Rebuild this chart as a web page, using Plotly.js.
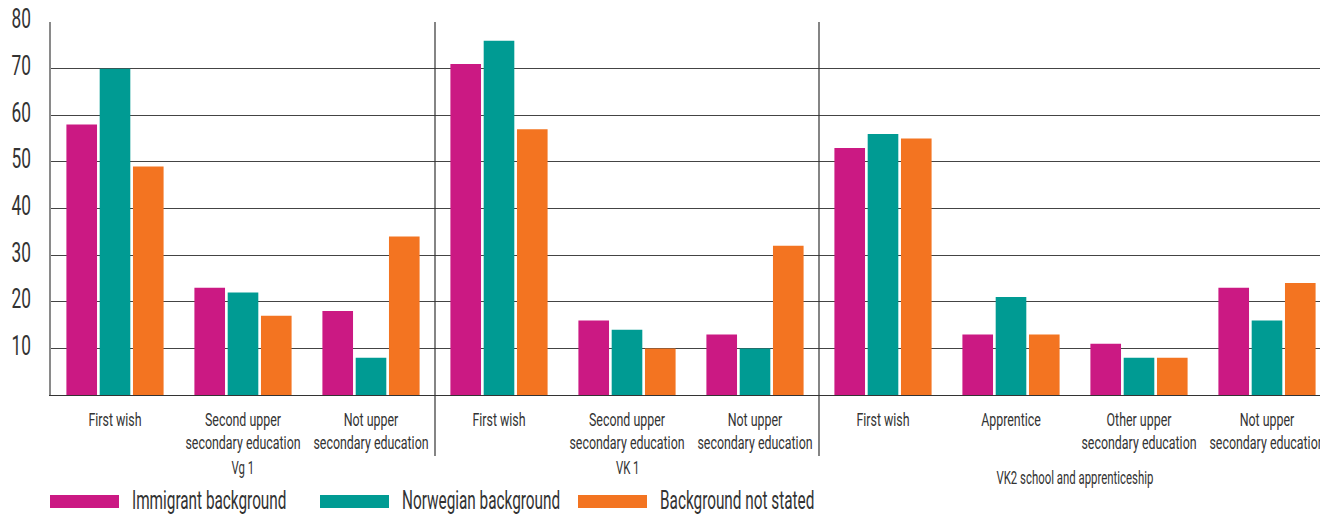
<!DOCTYPE html>
<html>
<head>
<meta charset="utf-8">
<script src="https://cdn.plot.ly/plotly-3.0.1.min.js"></script>
<style>
  html, body { margin: 0; padding: 0; background: #fff; }
  #chart { width: 1320px; height: 514px; }
</style>
</head>
<body>
<div id="chart"></div>
<script>
// Programme groups and the outcome categories inside each
const groups = ["Vg 1", "VK 1", "VK2 school and apprenticeship"];
const groupCategories = [
  ["First wish", "Second upper<br>secondary education", "Not upper<br>secondary education"],
  ["First wish", "Second upper<br>secondary education", "Not upper<br>secondary education"],
  ["First wish", "Apprentice", "Other upper<br>secondary education", "Not upper<br>secondary education"]
];

// Series (per cent), in the order of the flattened categories
const seriesNames = ["Immigrant background", "Norwegian background", "Background not stated"];
const immigrant = [58, 23, 18, 71, 16, 13, 53, 13, 11, 23];
const norwegian = [70, 22, 8, 76, 14, 10, 56, 21, 8, 16];
const notStated = [49, 17, 34, 57, 10, 32, 55, 13, 8, 24];

const yTicks = [10, 20, 30, 40, 50, 60, 70, 80];

const colors = ["#CB1983", "#009B93", "#F37421"];
const FONT = "Roboto, 'Liberation Sans', sans-serif";
const TEXT = "#333333";

// Horizontal squeeze per kind of label, giving a condensed face
const SQUEEZE = { ytick: 0.64, xtick: 0.69, group: 0.6, legend: 0.59 };

// Flatten categories into numeric positions
const catLabels = [];
const groupSpans = [];
groupCategories.forEach(cats => {
  const start = catLabels.length;
  cats.forEach(c => catLabels.push(c));
  groupSpans.push([start, catLabels.length - 1]);
});
const xPos = catLabels.map((_, i) => i);

const values = [immigrant, norwegian, notStated];
const traces = values.map((v, s) => ({
  type: "bar",
  x: xPos,
  y: v,
  name: seriesNames[s],
  marker: { color: colors[s], line: { width: 0 } },
  showlegend: false
}));

// Plot geometry in pixels (used to convert to paper coordinates)
const ML = 51, MT = 22, MB = 119, W = 1320, H = 514;
const plotW = W - ML, plotH = H - MT - MB;
const catPx = 128;
const xMax = -0.5 + plotW / catPx;
const pyPaper = px => (H - MB - px) / plotH;   // page y -> paper y
const pxPaper = px => (px - ML) / plotW;         // page x -> paper x

const shapes = [];
const annotations = [];

// Vertical separators between groups
groupSpans.slice(0, -1).forEach(([a, b]) => {
  shapes.push({
    type: "line", xref: "x", yref: "paper",
    x0: b + 0.5, x1: b + 0.5, y0: pyPaper(456), y1: 1,
    line: { color: "#333", width: 1.2 }
  });
});

// Group labels under the category labels
const groupLabelY = [468, 468, 477];
groupSpans.forEach(([a, b], g) => {
  annotations.push({
    text: groups[g], xref: "x", yref: "paper",
    x: (a + b) / 2, y: pyPaper(groupLabelY[g]),
    showarrow: false, xanchor: "center", yanchor: "middle",
    font: { family: FONT, size: 19, color: TEXT },
    name: "group"
  });
});

// Legend with wide swatches along the bottom
const legendSwatchX = [50, 320, 578];
const swatchW = 69;
seriesNames.forEach((name, s) => {
  const x0 = legendSwatchX[s];
  shapes.push({
    type: "rect", xref: "paper", yref: "paper",
    x0: pxPaper(x0), x1: pxPaper(x0 + swatchW),
    y0: pyPaper(508), y1: pyPaper(495),
    fillcolor: colors[s], line: { width: 0 }
  });
  annotations.push({
    text: name, xref: "paper", yref: "paper",
    x: pxPaper(x0 + swatchW + 11), y: pyPaper(500),
    showarrow: false, xanchor: "left", yanchor: "middle", align: "left",
    font: { family: FONT, size: 26, color: TEXT },
    name: "legend"
  });
});

const layout = {
  width: W, height: H,
  margin: { l: ML, r: 0, t: MT, b: MB, pad: 0 },
  paper_bgcolor: "#fff", plot_bgcolor: "#fff",
  barmode: "group",
  bargap: 0.22,
  bargroupgap: 0.08,
  showlegend: false,
  xaxis: {
    range: [-0.5, xMax],
    tickmode: "array",
    tickvals: xPos,
    ticktext: catLabels,
    tickangle: 0,
    ticklabeloverflow: "allow",
    showgrid: false,
    zeroline: false,
    showline: true, linecolor: "#333", linewidth: 1.2,
    ticks: "",
    ticklabelstandoff: 8,
    tickfont: { family: FONT, size: 18, color: TEXT },
    fixedrange: true
  },
  yaxis: {
    range: [0, 80],
    tickmode: "array",
    tickvals: yTicks,
    showgrid: true, gridcolor: "#444", gridwidth: 1,
    zeroline: false,
    showline: true, linecolor: "#8a8a8a", linewidth: 1.6,
    ticks: "",
    ticklabelstandoff: 13,
    ticklabelshift: -3,
    tickfont: { family: FONT, size: 27, color: TEXT },
    fixedrange: true
  },
  shapes: shapes,
  annotations: annotations
};

function squeeze(t, k) {
  const ax = parseFloat(t.getAttribute("x")) || 0;
  const prev = t.getAttribute("transform") || "";
  t.setAttribute("transform",
    `${prev} translate(${ax},0) scale(${k},1) translate(${-ax},0)`);
}

function condenseText(gd) {
  gd.querySelectorAll(".xtick text").forEach(t => squeeze(t, SQUEEZE.xtick));
  gd.querySelectorAll(".ytick text").forEach(t => squeeze(t, SQUEEZE.ytick));
  gd.querySelectorAll(".annotation").forEach((g, i) => {
    const kind = gd.layout.annotations[i].name;
    const t = g.querySelector(".annotation-text");
    if (t) squeeze(t, SQUEEZE[kind]);
  });
}

Plotly.newPlot("chart", traces, layout, { displayModeBar: false, staticPlot: true })
  .then(condenseText);
</script>
</body>
</html>
